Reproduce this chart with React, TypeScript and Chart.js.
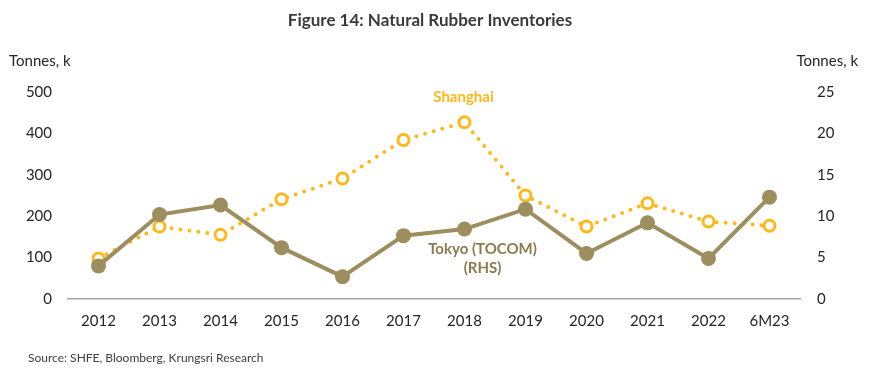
import React, { useEffect, useRef } from "react";
import { Chart, registerables } from "chart.js";

Chart.register(...registerables);

const categories = ["2012", "2013", "2014", "2015", "2016", "2017", "2018", "2019", "2020", "2021", "2022", "6M23"];
const shanghai = [98, 175, 155, 241, 291, 384, 427, 250, 175, 231, 187, 177];
const tokyo = [4.0, 10.2, 11.35, 6.2, 2.7, 7.65, 8.45, 10.85, 5.5, 9.2, 4.9, 12.3];
const leftTicks = [0, 100, 200, 300, 400, 500];
const rightTicks = [0, 5, 10, 15, 20, 25];

const YELLOW = "#FFB81C";
const OLIVE = "#9C8E5F";
const TEXT = "#262626";
const FONT = "Lato";

const textPlugin = {
  id: "texts",
  afterDraw(chart: any) {
    const ctx = chart.ctx;
    const x = chart.scales.x;
    const y = chart.scales.y;
    ctx.save();
    ctx.textBaseline = "middle";
    ctx.fillStyle = "#3a3a3a";
    ctx.font = `bold 17px ${FONT}`;
    ctx.textAlign = "center";
    ctx.fillText("Figure 14: Natural Rubber Inventories", 430, 21);
    ctx.fillStyle = TEXT;
    ctx.font = `15px ${FONT}`;
    ctx.textAlign = "left";
    ctx.fillText("Tonnes, k", 9, 61);
    ctx.textAlign = "right";
    ctx.fillText("Tonnes, k", 858, 61);
    ctx.font = `12px ${FONT}`;
    ctx.textAlign = "left";
    ctx.fillStyle = "#404040";
    ctx.fillText("Source: SHFE, Bloomberg, Krungsri Research", 28, 358);
    ctx.textAlign = "center";
    ctx.font = `bold 15px ${FONT}`;
    ctx.fillStyle = YELLOW;
    ctx.fillText("Shanghai", x.getPixelForValue(6) - 1, 97);
    ctx.fillStyle = "#8A7C4E";
    ctx.fillText("Tokyo (TOCOM)", x.getPixelForValue(6) + 18, 249);
    ctx.fillText("(RHS)", x.getPixelForValue(6) + 18, 268);
    ctx.restore();
  },
};

export default function App() {
  const ref = useRef<HTMLCanvasElement>(null);
  useEffect(() => {
    document.body.style.margin = "0";
    const chart = new Chart(ref.current!, {
      type: "line",
      data: {
        labels: categories,
        datasets: [
          {
            label: "Tokyo (TOCOM) (RHS)",
            data: tokyo,
            yAxisID: "y1",
            borderColor: OLIVE,
            backgroundColor: OLIVE,
            borderWidth: 4,
            pointRadius: 7.5,
            pointBorderWidth: 0,
            pointBackgroundColor: OLIVE,
            order: 0,
          },
          {
            label: "Shanghai",
            data: shanghai,
            yAxisID: "y",
            borderColor: YELLOW,
            borderWidth: 4,
            borderDash: [0, 9],
            borderCapStyle: "round",
            pointRadius: 5.5,
            pointBorderWidth: 3,
            pointBorderColor: YELLOW,
            pointBackgroundColor: "#ffffff",
            order: 1,
          },
        ],
      },
      options: {
        animation: false,
        responsive: false,
        layout: { padding: { top: 92, bottom: 44, left: 0, right: 0 } },
        plugins: { legend: { display: false }, tooltip: { enabled: false } },
        scales: {
          x: {
            offset: true,
            grid: { display: false, drawTicks: false },
            border: { display: true, color: "#a6a6a6", width: 1.5 },
            ticks: { color: TEXT, font: { family: FONT, size: 15 }, padding: 13 },
            afterFit: (s: any) => { s.height = 30; },
          },
          y: {
            position: "left",
            min: 0,
            max: 500,
            afterBuildTicks: (s: any) => { s.ticks = leftTicks.map((v) => ({ value: v })); },
            grid: { display: false, drawTicks: false },
            border: { display: false },
            ticks: { color: TEXT, font: { family: FONT, size: 15 }, padding: 16 },
            afterFit: (s: any) => { s.width = 68; },
          },
          y1: {
            position: "right",
            min: 0,
            max: 25,
            afterBuildTicks: (s: any) => { s.ticks = rightTicks.map((v) => ({ value: v })); },
            grid: { display: false, drawTicks: false },
            border: { display: false },
            ticks: { color: TEXT, font: { family: FONT, size: 15 }, padding: 17 },
            afterFit: (s: any) => { s.width = 70; },
          },
        },
      },
      plugins: [textPlugin],
    } as any);
    return () => chart.destroy();
  }, []);
  return (
    <div style={{ width: 870, height: 373, background: "#fff" }}>
      <canvas ref={ref} width={870} height={373} style={{ display: "block" }} />
    </div>
  );
}
